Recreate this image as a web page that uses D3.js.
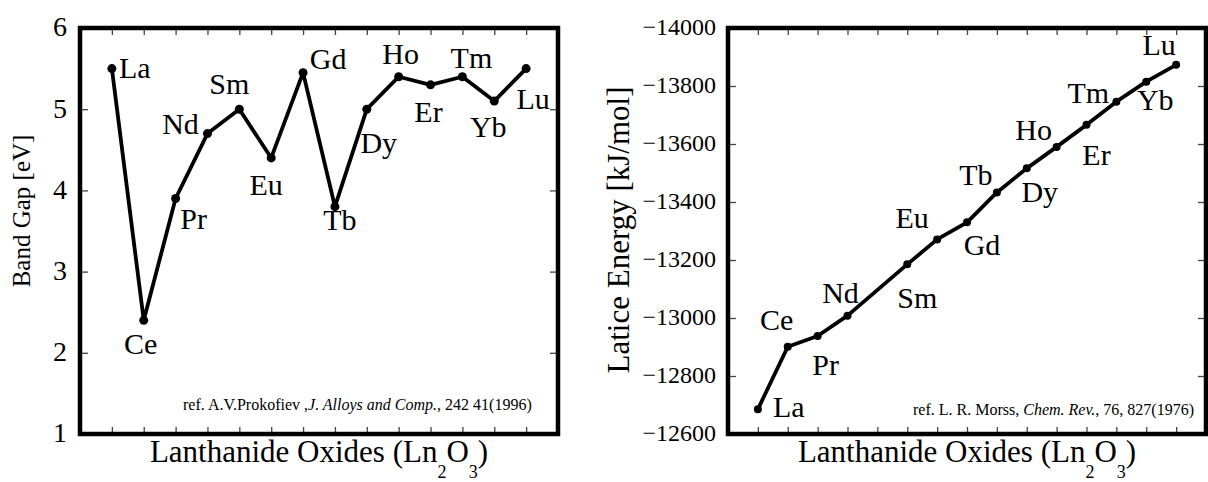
<!DOCTYPE html>
<html>
<head>
<meta charset="utf-8">
<script src="https://cdn.jsdelivr.net/npm/d3@7"></script>
<style>
  html, body { margin: 0; padding: 0; background: #fff; }
  svg { display: block; }
  text { font-family: "Liberation Serif", "Times New Roman", Times, serif; fill: #000; }
</style>
</head>
<body>
<svg id="chart" width="1208" height="482" font-family="'Liberation Serif', 'Times New Roman', Times, serif"></svg>
<script>
// Band gap of the lanthanide sesquioxides (Prokofiev, 1996)
const gapElements = ["La", "Ce", "Pr", "Nd", "Sm", "Eu", "Gd", "Tb", "Dy", "Ho", "Er", "Tm", "Yb", "Lu"];
const bandGap = [5.5, 2.4, 3.9, 4.7, 5.0, 4.4, 5.45, 3.8, 5.0, 5.4, 5.3, 5.4, 5.1, 5.5];
const gapTicks = [1, 2, 3, 4, 5, 6];

// Lattice energy of the lanthanide sesquioxides (Morss, 1976); Pm has a slot but no value
const energySlots = ["La", "Ce", "Pr", "Nd", "Pm", "Sm", "Eu", "Gd", "Tb", "Dy", "Ho", "Er", "Tm", "Yb", "Lu"];
const energyElements = ["La", "Ce", "Pr", "Nd", "Sm", "Eu", "Gd", "Tb", "Dy", "Ho", "Er", "Tm", "Yb", "Lu"];
const latticeEnergy = [-12685, -12901, -12938, -13008, -13185, -13271, -13330, -13433, -13516, -13590, -13666, -13746, -13815, -13873];
const energyTicks = [-12600, -12800, -13000, -13200, -13400, -13600, -13800, -14000];

// label placement around each point: [dx of text centre, dy of baseline]
const gapLabelOffset = {
  La: [23, 9], Ce: [-3, 34], Pr: [18, 30], Nd: [-27, 0], Sm: [-10, -15], Eu: [-5, 37], Gd: [25, -4],
  Tb: [5, 23], Dy: [12, 44], Ho: [2, -13], Er: [-2, 37], Tm: [9, -9], Yb: [-6, 36], Lu: [7, 40]
};
const energyLabelOffset = {
  La: [31, 8], Ce: [-11, -17], Pr: [8, 39], Nd: [-7, -13], Sm: [10, 44], Eu: [-25, -11], Gd: [15, 33],
  Tb: [-21, -7], Dy: [13, 34], Ho: [-23, -7], Er: [10, 40], Tm: [-28, 1], Yb: [9, 28], Lu: [-17, -10]
};

const FONT = "'Liberation Serif', 'Times New Roman', Times, serif";
const svg = d3.select("#chart");

function drawPanel(cfg) {
  const { left, right, top, bottom } = cfg;
  const g = svg.append("g").attr("font-family", FONT);
  const x = d3.scalePoint().domain(cfg.slots).range([left, right]).padding(1);
  const y = d3.scaleLinear().domain(cfg.yDomain).range([bottom, top]);

  const styleTicks = sel => {
    sel.attr("font-family", FONT);
    sel.select(".domain").remove();
    sel.selectAll(".tick line").attr("stroke", "#444").attr("stroke-width", 1.3);
  };

  // inward ticks on all four sides
  g.append("g").attr("transform", `translate(0,${bottom})`)
    .call(d3.axisBottom(x).tickSize(-7).tickFormat(""))
    .call(styleTicks);
  g.append("g").attr("transform", `translate(0,${top})`)
    .call(d3.axisTop(x).tickSize(-7).tickFormat(""))
    .call(styleTicks);
  g.append("g").attr("transform", `translate(${right},0)`)
    .call(d3.axisRight(y).tickValues(cfg.yTicks).tickSize(-8).tickFormat(""))
    .call(styleTicks);
  const yAxis = g.append("g").attr("transform", `translate(${left},0)`)
    .call(d3.axisLeft(y).tickValues(cfg.yTicks).tickSize(-8).tickPadding(cfg.tickPad).tickFormat(d3.format("d")))
    .call(styleTicks);
  yAxis.attr("font-size", cfg.tickSize);
  yAxis.selectAll(".tick text")
    .attr("font-size", cfg.tickSize)
    .attr("font-family", FONT)
    .attr("dy", "0.28em");

  // frame
  g.append("rect")
    .attr("x", left).attr("y", top)
    .attr("width", right - left).attr("height", bottom - top)
    .attr("fill", "none").attr("stroke", "#000").attr("stroke-width", 4.5);

  const pts = cfg.elements.map((el, i) => ({ el, v: cfg.values[i] }));

  g.append("path")
    .datum(pts)
    .attr("fill", "none").attr("stroke", "#000").attr("stroke-width", 3.8)
    .attr("stroke-linejoin", "round")
    .attr("d", d3.line().x(d => x(d.el)).y(d => y(d.v)));

  g.selectAll("circle.pt").data(pts).join("circle")
    .attr("class", "pt")
    .attr("cx", d => x(d.el)).attr("cy", d => y(d.v))
    .attr("r", cfg.dotR).attr("fill", "#000");

  g.selectAll("text.lbl").data(pts).join("text")
    .attr("class", "lbl")
    .attr("x", d => x(d.el) + cfg.offsets[d.el][0])
    .attr("y", d => y(d.v) + cfg.offsets[d.el][1])
    .attr("text-anchor", "middle")
    .attr("font-size", 30)
    .text(d => d.el);

  // y-axis title
  g.append("text")
    .attr("transform", `translate(${cfg.yTitleX},${cfg.yTitleY}) rotate(-90)`)
    .attr("text-anchor", "middle")
    .attr("font-size", cfg.yTitleSize)
    .text(cfg.yTitle);

  // x-axis title with subscripts
  const xt = g.append("text")
    .attr("x", (left + right) / 2).attr("y", 462)
    .attr("text-anchor", "middle")
    .attr("font-size", 31);
  xt.append("tspan").text("Lanthanide Oxides (Ln");
  xt.append("tspan").attr("font-size", 18).attr("dy", 16).text("2");
  xt.append("tspan").attr("dy", -16).text("O");
  xt.append("tspan").attr("font-size", 18).attr("dy", 16).text("3");
  xt.append("tspan").attr("dy", -16).text(")");

  // reference note
  const ref = g.append("text")
    .attr("x", cfg.refX).attr("y", cfg.refY)
    .attr("font-size", 16);
  ref.append("tspan").text(cfg.ref[0]);
  ref.append("tspan").attr("font-style", "italic").text(cfg.ref[1]);
  ref.append("tspan").text(cfg.ref[2]);
}

drawPanel({
  left: 80, right: 558, top: 28, bottom: 434,
  slots: gapElements, elements: gapElements, values: bandGap,
  yDomain: [1, 6], yTicks: gapTicks, tickSize: 28, tickPad: 13,
  offsets: gapLabelOffset, dotR: 4.5,
  yTitle: "Band Gap [eV]", yTitleX: 30, yTitleY: 211, yTitleSize: 25,
  ref: ["ref. A.V.Prokofiev ,", "J. Alloys and Comp.", ", 242 41(1996)"],
  refX: 183, refY: 410
});

drawPanel({
  left: 728, right: 1206, top: 28, bottom: 434,
  slots: energySlots, elements: energyElements, values: latticeEnergy,
  yDomain: [-12600, -14000], yTicks: energyTicks, tickSize: 24, tickPad: 12,
  offsets: energyLabelOffset, dotR: 4,
  yTitle: "Latice Energy [kJ/mol]", yTitleX: 629, yTitleY: 230, yTitleSize: 31,
  ref: ["ref. L. R. Morss, ", "Chem. Rev.", ", 76, 827(1976)"],
  refX: 913, refY: 415
});
</script>
</body>
</html>
